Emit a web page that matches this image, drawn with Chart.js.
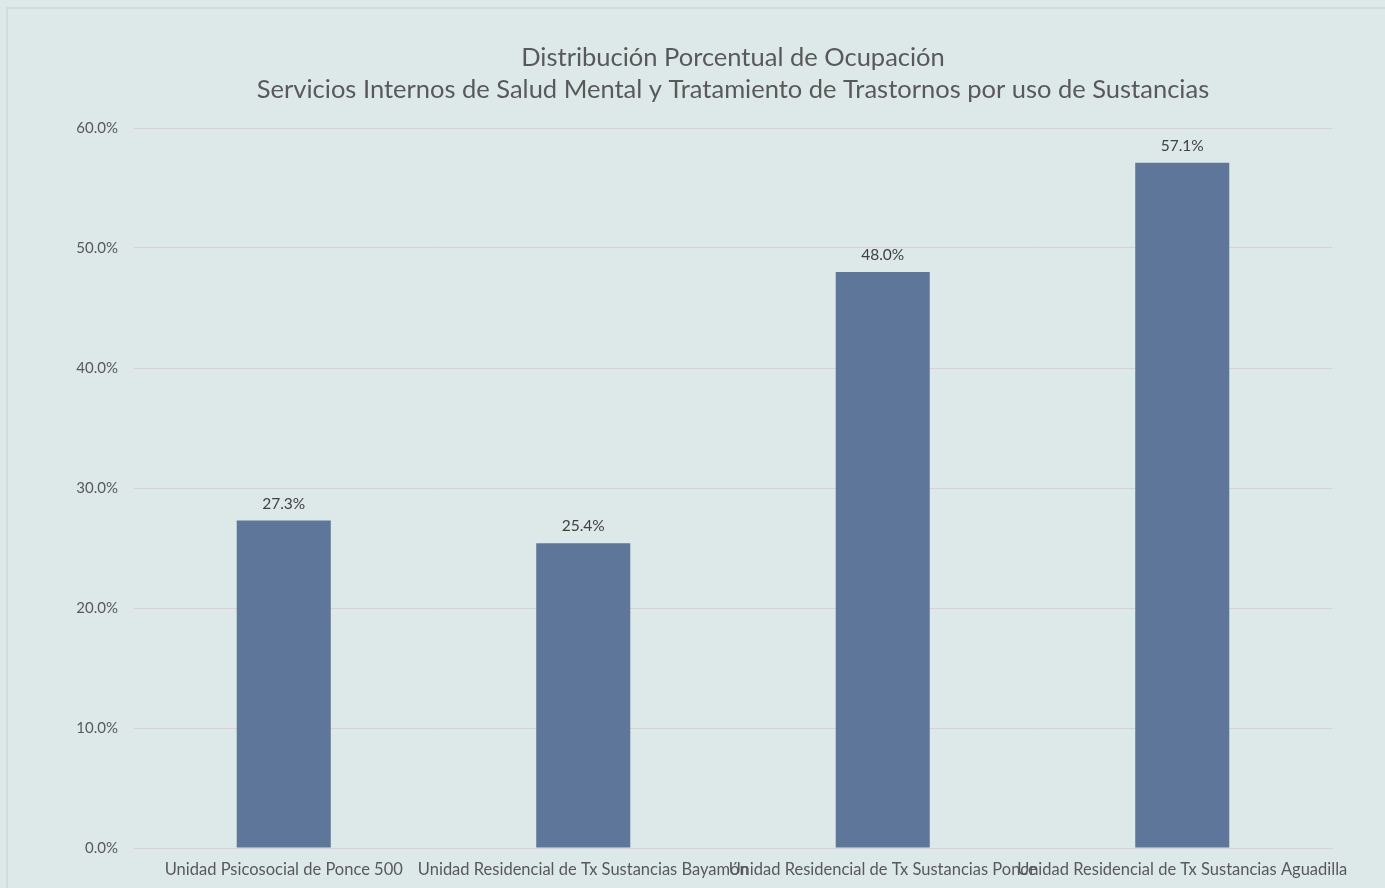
<!DOCTYPE html>
<html>
<head>
<meta charset="utf-8">
<script src="https://cdn.jsdelivr.net/npm/chart.js@4"></script>
<style>
  html, body { margin: 0; padding: 0; background: #dde9e8; overflow: hidden; }
  #marco {
    position: absolute; left: 6px; top: 7px; width: 1390px; height: 900px;
    border: 2px solid #d3dbdb; background: #dce9e8;
  }
  #grafico { position: absolute; left: 0; top: 0; }
</style>
</head>
<body>
<div id="marco"></div>
<canvas id="grafico" width="1385" height="888"></canvas>
<script>
// Datos
const unidades = [
  'Unidad Psicosocial de Ponce 500',
  'Unidad Residencial de Tx Sustancias Bayamón',
  'Unidad Residencial de Tx Sustancias Ponce',
  'Unidad Residencial de Tx Sustancias Aguadilla'
];
const ocupacion = [27.3, 25.4, 48.0, 57.1];
const titulo = [
  'Distribución Porcentual de Ocupación',
  'Servicios Internos de Salud Mental y Tratamiento de Trastornos por uso de Sustancias'
];

const fuente = 'Lato, "Open Sans", sans-serif';

// Titulo centrado sobre el area del grafico (no sobre todo el canvas)
const tituloCentrado = {
  id: 'tituloCentrado',
  afterDraw(chart) {
    const ctx = chart.ctx;
    const area = chart.chartArea;
    const cx = (area.left + area.right) / 2;
    ctx.save();
    ctx.font = '25.5px ' + fuente;
    ctx.fillStyle = '#595959';
    ctx.textAlign = 'center';
    ctx.textBaseline = 'middle';
    titulo.forEach((linea, i) => ctx.fillText(linea, cx, 58 + i * 32));
    ctx.restore();
  }
};

// Etiquetas encima de cada barra
const etiquetasBarras = {
  id: 'etiquetasBarras',
  afterDatasetsDraw(chart) {
    const ctx = chart.ctx;
    const meta = chart.getDatasetMeta(0);
    ctx.save();
    ctx.font = '15.5px ' + fuente;
    ctx.fillStyle = '#404040';
    ctx.textAlign = 'center';
    ctx.textBaseline = 'bottom';
    meta.data.forEach((bar, i) => {
      ctx.fillText(ocupacion[i].toFixed(1) + '%', bar.x, bar.y - 9);
    });
    ctx.restore();
  }
};

Chart.defaults.font.family = fuente;

new Chart(document.getElementById('grafico'), {
  type: 'bar',
  data: {
    labels: unidades,
    datasets: [{
      data: ocupacion,
      backgroundColor: '#5f769b',
      categoryPercentage: 1,
      barPercentage: 0.314
    }]
  },
  options: {
    responsive: false,
    animation: false,
    layout: { padding: { left: 0, right: 53, top: 128, bottom: 8 } },
    plugins: {
      legend: { display: false },
      tooltip: { enabled: false },
      title: { display: false }
    },
    scales: {
      x: {
        afterFit: s => { s.height = 32; },
        grid: { display: false, drawTicks: false },
        border: { display: true, color: '#d9d0d4' },
        ticks: {
          color: '#595959',
          font: { size: 16.5 },
          autoSkip: false,
          minRotation: 0,
          maxRotation: 0,
          padding: 12
        }
      },
      y: {
        min: 0,
        max: 60,
        afterFit: s => { s.width = 134; },
        grid: { color: '#d9d0d4', drawTicks: false },
        border: { display: false },
        ticks: {
          stepSize: 10,
          color: '#595959',
          font: { size: 15 },
          padding: 16,
          callback: v => v.toFixed(1) + '%'
        }
      }
    }
  },
  plugins: [etiquetasBarras, tituloCentrado]
});
</script>
</body>
</html>
